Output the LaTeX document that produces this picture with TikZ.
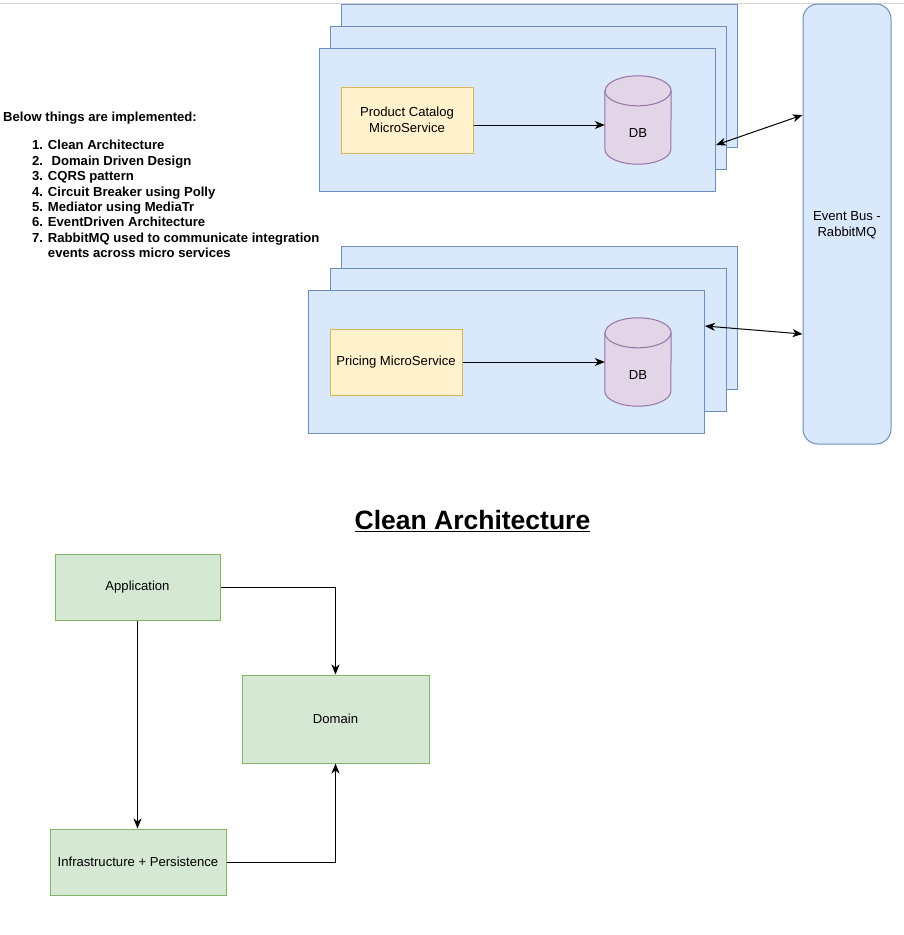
\documentclass[tikz,border=0pt]{standalone}
\usepackage{fontspec}
\setmainfont{Liberation Sans}
\usetikzlibrary{arrows.meta,calc}
\definecolor{bluefill}{HTML}{DAE8FC}
\definecolor{bluedraw}{HTML}{6C8EBF}
\definecolor{yelfill}{HTML}{FFF2CC}
\definecolor{yeldraw}{HTML}{D6B656}
\definecolor{purfill}{HTML}{E1D5E7}
\definecolor{purdraw}{HTML}{9673A6}
\definecolor{grnfill}{HTML}{D5E8D4}
\definecolor{grndraw}{HTML}{82B366}
\definecolor{edgegray}{HTML}{D4D4D4}
\tikzset{
  bodyfont/.style={font=\fontsize{13.1}{15.8}\selectfont},
  svcbox/.style={rectangle, draw=bluedraw, fill=bluefill, line width=1pt, inner sep=0pt,
    minimum width=396pt, minimum height=143pt},
  msbox/.style={rectangle, draw=yeldraw, fill=yelfill, line width=1pt, inner sep=0pt,
    minimum width=132pt, minimum height=66pt, align=center, bodyfont},
  dbbox/.style={rectangle, inner sep=0pt, minimum width=66pt, minimum height=88pt},
  dbshape/.style={draw=purdraw, fill=purfill, line width=1pt},
  busbox/.style={rectangle, rounded corners=15pt, draw=bluedraw, fill=bluefill, line width=1pt,
    inner sep=0pt, minimum width=88pt, minimum height=440pt, align=center, bodyfont},
  layerbox/.style={rectangle, draw=grndraw, fill=grnfill, line width=1pt, inner sep=0pt,
    align=center, bodyfont},
  conn/.style={draw=black, line width=1pt, -{Stealth[length=10pt,width=8pt,inset=3pt]}},
  biconn/.style={draw=black, line width=1pt,
    {Stealth[length=10pt,width=8pt,inset=3pt]}-{Stealth[length=10pt,width=8pt,inset=3pt]}},
}
\newcommand{\dbcyl}[1]{%
  \path[dbshape] ($(#1.north west)+(0,15)$) -- ($(#1.south west)+(0,-15)$)
     arc[start angle=180,end angle=360,x radius=33pt,y radius=15pt]
     -- ($(#1.north east)+(0,15)$)
     arc[start angle=0,end angle=180,x radius=33pt,y radius=15pt] -- cycle;
  \draw[dbshape, fill=none] ($(#1.north west)+(0,15)$)
     arc[start angle=180,end angle=360,x radius=33pt,y radius=15pt];
}
\begin{document}
\begin{tikzpicture}[x=1pt,y=-1pt]
\useasboundingbox (0,0) rectangle (904,935);
\fill[white] (0,0) rectangle (904,935);
\draw[edgegray, line width=1pt] (0,3) -- (904,3);

% stack 1
\node[svcbox] (back1) at (539,75.5) {};
\node[svcbox] (mid1) at (528.5,97.5) {};
\node[svcbox] (front1) at (517.5,119.5) {};
\node[msbox] (pc) at (407,120) {Product Catalog\\MicroService};
\node[dbbox] (db1) at (638,120) {};
\dbcyl{db1}
\node[bodyfont] (db1t) at (638,133) {DB};
\draw[conn] ($(pc.east)+(0,5)$) -- ($(db1.west)+(0,5)$);

% stack 2
\node[svcbox] (back2) at (539,317.5) {};
\node[svcbox] (mid2) at (528.5,339.5) {};
\node[svcbox] (front2) at (506.5,361.5) {};
\node[msbox] (pr) at (396,362) {Pricing MicroService};
\node[dbbox] (db2) at (638,362) {};
\dbcyl{db2}
\node[bodyfont] (db2t) at (638,375) {DB};
\draw[conn] (pr.east) -- (db2.west);

% event bus
\node[busbox] (bus) at (847,224) {};
\node[bodyfont, align=center] (bust) at (847,225.5) {Event Bus -\\RabbitMQ};
\draw[biconn] ($(front1.east)+(0,25.5)$) -- ($(bus.west)+(0,-109)$);
\draw[biconn] ($(front2.east)+(0,-35.5)$) -- ($(bus.west)+(0,110)$);

% list
\node[anchor=base west, inner sep=0pt, font=\bfseries\fontsize{13.1}{15.5}\selectfont] (head) at (3,121.6) {Below things are implemented:};
\node[anchor=north west, inner sep=0pt, font=\bfseries] (list) at (32,138.8) {%
  \fontsize{13.1}{15.43}\selectfont
  \begin{tabular}{@{}l@{ }l@{}}
  1.&Clean Architecture\\
  2.&\ Domain Driven Design\\
  3.&CQRS pattern\\
  4.&Circuit Breaker using Polly\\
  5.&Mediator using MediaTr\\
  6.&EventDriven Architecture\\
  7.&RabbitMQ used to communicate integration\\
  &events across micro services
  \end{tabular}};

% clean architecture
\node[font=\bfseries\fontsize{26.5}{30}\selectfont, inner sep=0pt] (title) at (472.5,521) {\underline{Clean Architecture}};
\node[layerbox, minimum width=165pt, minimum height=66pt] (app) at (137.5,587) {Application};
\node[layerbox, minimum width=187pt, minimum height=88pt] (dom) at (335.5,719) {Domain};
\node[layerbox, minimum width=176pt, minimum height=66pt] (inf) at (138,862) {Infrastructure + Persistence};
\draw[conn] (app.east) -| (dom.north);
\draw[conn] (app.south) -- (app.south |- inf.north);
\draw[conn] (inf.east) -| (dom.south);
\end{tikzpicture}
\end{document}
